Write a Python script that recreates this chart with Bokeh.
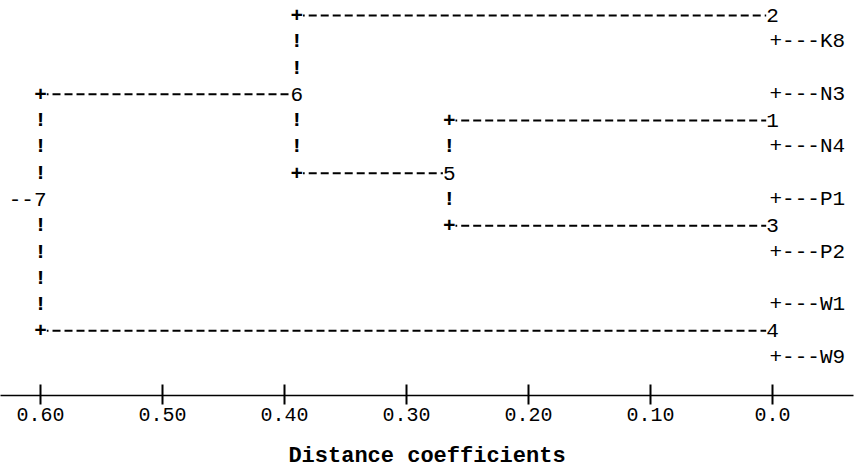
from bokeh.plotting import figure
from bokeh.models import ColumnDataSource, LabelSet, Range1d, FixedTicker
from bokeh.embed import file_html
from bokeh.resources import INLINE
from bokeh.core.properties import value

# ---------------- data ----------------
leaves = ["K8", "N3", "N4", "P1", "P2", "W1", "W9"]          # listed top to bottom
clusters = ["2", "1", "3", "4"]                                # groups at distance 0.0, top to bottom
cluster_dist = [0.0, 0.0, 0.0, 0.0]
nodes = ["5", "6", "7"]                                        # merge nodes
node_children = [("1", "3"), ("2", "5"), ("6", "4")]
node_dist = [0.265, 0.39, 0.60]
tick_values = [0.60, 0.50, 0.40, 0.30, 0.20, 0.10, 0.0]
tick_labels = ["0.60", "0.50", "0.40", "0.30", "0.20", "0.10", "0.0"]
axis_title = "Distance coefficients"

# ---------------- text-dendrogram layout (rows) ----------------
row, dist = {}, {}
for i, c in enumerate(clusters):
    row[c] = 4 * i
    dist[c] = cluster_dist[i]
leaf_rows = [2 * i + 1 for i in range(len(leaves))]
for n, ch, d in zip(nodes, node_children, node_dist):
    row[n] = (row[ch[0]] + row[ch[1]]) // 2
    dist[n] = d
root = nodes[-1]

seg = dict(x0=[], x1=[], y=[])
plus = dict(x=[], y=[], t=[])
bang = dict(x=[], y=[], t=[])
for n, ch in zip(nodes, node_children):
    rows_c = [row[c] for c in ch]
    for c in ch:
        seg["x0"].append(dist[n]); seg["x1"].append(dist[c]); seg["y"].append(row[c])
        plus["x"].append(dist[n]); plus["y"].append(row[c]); plus["t"].append("+")
    for r in range(min(rows_c) + 1, max(rows_c)):
        if r != row[n]:
            bang["x"].append(dist[n]); bang["y"].append(r); bang["t"].append("!")

lab = dict(x=[], y=[], t=[])
for c in clusters + nodes[:-1]:
    lab["x"].append(dist[c]); lab["y"].append(row[c]); lab["t"].append(c)

leaf_src = dict(x=[0.0] * len(leaves), y=leaf_rows, t=["+---" + l for l in leaves])
root_src = dict(x=[dist[root]], y=[row[root]], t=["--" + root])

FONT = value("Liberation Mono")
FS = value("21px")

p = figure(width=861, height=471, output_backend="svg", toolbar_location=None,
           x_range=Range1d(0.6328, -0.0664), y_range=Range1d(14.46, -0.57),
           min_border_left=0, min_border_right=8, min_border_top=0, min_border_bottom=76,
           y_axis_location=None, background_fill_color="white", border_fill_color="white")
p.grid.visible = False
p.outline_line_color = None

p.segment(x0="x0", y0="y", x1="x1", y1="y", source=ColumnDataSource(seg),
          line_color="black", line_width=2, line_dash="8 4")

p.text(x="x", y="y", text="t", source=ColumnDataSource(bang),
       text_font=FONT, text_font_size=FS, text_font_style="bold",
       text_align="center", text_baseline="middle", text_color="black")

common = dict(text_font=FONT, text_font_size=FS, text_baseline="middle", text_color="black")
p.add_layout(LabelSet(x="x", y="y", text="t", source=ColumnDataSource(plus),
                      text_font_style="bold", text_align="center",
                      background_fill_color="white", **common))
p.add_layout(LabelSet(x="x", y="y", text="t", source=ColumnDataSource(lab),
                      text_align="center", background_fill_color="white", **common))
p.add_layout(LabelSet(x="x", y="y", text="t", source=ColumnDataSource(leaf_src),
                      x_offset=-3, text_align="left", **common))
p.add_layout(LabelSet(x="x", y="y", text="t", source=ColumnDataSource(root_src),
                      x_offset=6, text_align="right", background_fill_color="white", **common))

ax = p.xaxis[0]
ax.ticker = FixedTicker(ticks=tick_values)
ax.major_label_overrides = {v: l for v, l in zip(tick_values, tick_labels)}
ax.axis_line_width = 1.5
ax.axis_line_color = "black"
ax.major_tick_in = 11
ax.major_tick_out = 9
ax.major_tick_line_width = 2
ax.major_tick_line_color = "black"
ax.minor_tick_line_color = None
ax.major_label_text_font = "Liberation Mono"
ax.major_label_text_font_size = "20px"
ax.major_label_text_color = "black"
ax.major_label_standoff = 3
ax.axis_label = axis_title
ax.axis_label_text_font = "Liberation Mono"
ax.axis_label_text_font_style = "bold"
ax.axis_label_text_font_size = "22px"
ax.axis_label_text_color = "black"
ax.axis_label_standoff = 20

open("out.html", "w").write(file_html(p, INLINE))
